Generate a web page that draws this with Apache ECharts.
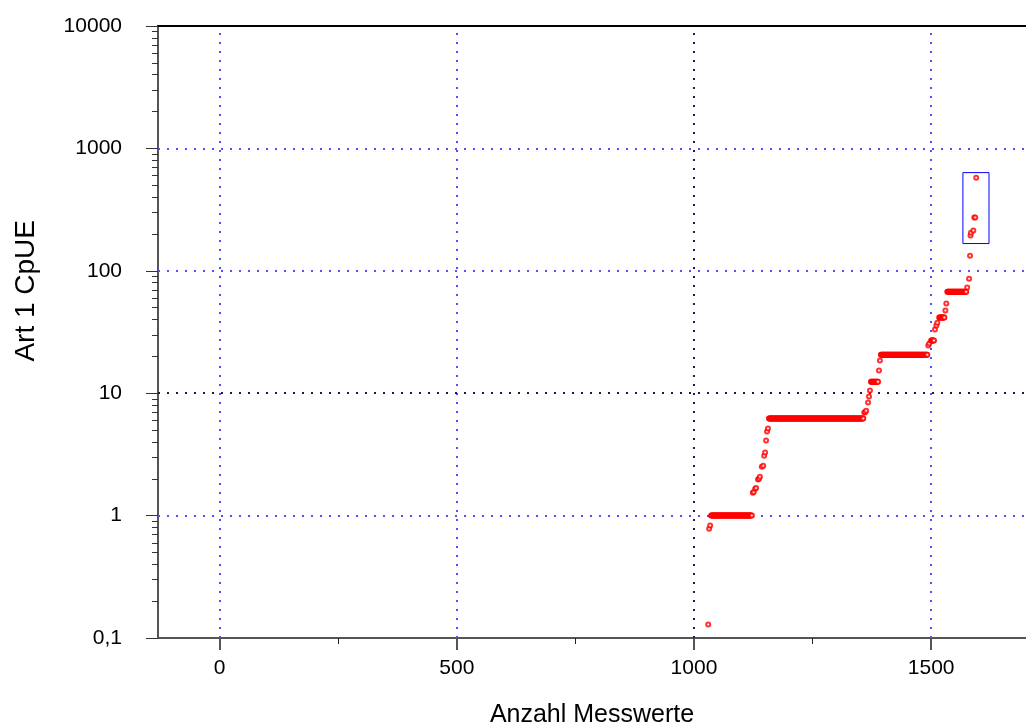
<!DOCTYPE html>
<html>
<head>
<meta charset="utf-8">
<script src="https://cdn.jsdelivr.net/npm/echarts@6/dist/echarts.min.js"></script>
<style>html,body{margin:0;padding:0;background:#fff}#c{width:1026px;height:727px}</style>
</head>
<body>
<div id="c"></div>
<script>
// ---- data ----
const xTitle = 'Anzahl Messwerte';
const yTitle = 'Art 1 CpUE';
const xMajorTicks = [0, 500, 1000, 1500];
const xMinorTicks = [250, 750, 1250];
const yMajorTicks = [0.1, 1, 10, 100, 1000, 10000];
const yMinorTicks = [0.2,0.3,0.4,0.5,0.6,0.7,0.8,0.9, 2,3,4,5,6,7,8,9, 20,30,40,50,60,70,80,90, 200,300,400,500,600,700,800,900, 2000,3000,4000,5000,6000,7000,8000,9000];
// isolated points [index, CpUE]
const singlePoints = [
  [1030,0.129],[1032,0.78],[1034,0.83],
  [1124,1.54],[1126,1.56],[1129,1.66],[1131,1.68],[1135,1.97],[1137,2.0],[1139,2.08],[1143,2.51],[1146,2.56],
  [1148,3.09],[1150,3.27],[1152,4.1],[1154,4.86],[1156,5.14],
  [1359,6.94],[1361,7.0],[1363,7.2],[1367,8.4],[1369,9.4],[1371,10.5],
  [1390,15.3],[1392,18.5],
  [1494,24.5],[1496,25.5],[1508,33.1],[1511,35.7],[1513,37.7],[1530,47.3],[1532,54],
  [1576,73],[1580,86],[1582,133],[1583,194],[1584,205],[1589,213],[1591,272],[1593,272],[1595,577]
];
// runs of consecutive measurements with equal CpUE [firstIndex, lastIndex, CpUE]
const runs = [
  [1036,1122,1.0],
  [1158,1357,6.2],
  [1373,1388,12.4],
  [1394,1492,20.6],
  [1500,1506,26.9],
  [1517,1528,41.5],
  [1534,1574,67.5]
];
// highlighted box [x0, x1, y0, y1]
const boxRange = [1567, 1622, 167, 634];

// ---- build ----
const points = singlePoints.slice();
runs.forEach(([a, b, v]) => { for (let i = a; i <= b; i++) points.push([i, v]); });
points.sort((p, q) => p[0] - q[0]);

const blue = '#5050ff';
const dark = '#1a1a50';
const gridLines = [];
xMajorTicks.forEach(v => gridLines.push({xAxis: v, lineStyle: {color: v === 1000 ? dark : blue}}));
yMajorTicks.filter(v => v > 0.1 && v < 10000).forEach(v => gridLines.push({yAxis: v, lineStyle: {color: v === 10 ? dark : blue}}));

const labelFont = {fontFamily: '"Liberation Sans",Arial,sans-serif', fontSize: 21, color: '#000'};

const chart = echarts.init(document.getElementById('c'), null, {renderer: 'canvas'});
chart.setOption({
  animation: false,
  backgroundColor: '#fff',
  grid: {left: 158, right: 0, top: 26, bottom: 89, containLabel: false, outerBoundsMode: 'none'},
  xAxis: [
    {
      type: 'value', min: -130, max: 1700, position: 'bottom',
      name: xTitle, nameLocation: 'middle', nameGap: 65,
      nameTextStyle: {fontFamily: '"Liberation Sans",Arial,sans-serif', fontSize: 25, color: '#000'},
      axisLine: {show: true, onZero: false, lineStyle: {color: '#555', width: 2}},
      axisTick: {show: true, length: 12, customValues: xMajorTicks, lineStyle: {color: '#555', width: 2}},
      axisLabel: {show: true, margin: 20, customValues: xMajorTicks, ...labelFont, formatter: v => String(v)},
      splitLine: {show: false}
    },
    {
      type: 'value', min: -130, max: 1700, position: 'bottom',
      axisLine: {show: false, onZero: false},
      axisTick: {show: true, length: 6, customValues: xMinorTicks, lineStyle: {color: '#222', width: 1}},
      axisLabel: {show: false},
      splitLine: {show: false}
    },
    {
      type: 'value', min: -130, max: 1700, position: 'top',
      axisLine: {show: true, onZero: false, lineStyle: {color: '#000', width: 2}},
      axisTick: {show: false}, axisLabel: {show: false}, splitLine: {show: false}
    }
  ],
  yAxis: [
    {
      type: 'log', logBase: 10, min: 0.1, max: 10000, position: 'left',
      axisLine: {show: true, onZero: false, lineStyle: {color: '#555', width: 2}},
      axisTick: {show: true, length: 12, lineStyle: {color: '#333', width: 1}},
      axisLabel: {show: true, margin: 36, ...labelFont,
        formatter: v => String(v).replace('.', ',')},
      splitLine: {show: false}
    },
    {
      type: 'value', min: -1, max: 4, position: 'left',
      axisLine: {show: false, onZero: false},
      axisTick: {show: true, length: 6, customValues: yMinorTicks.map(v => Math.log10(v)), lineStyle: {color: '#333', width: 1}},
      axisLabel: {show: false},
      splitLine: {show: false}
    }
  ],
  graphic: [{
    type: 'text', left: 12, top: 220, rotation: Math.PI / 2,
    style: {text: yTitle, fill: '#000', fontFamily: '"Liberation Sans",Arial,sans-serif', fontSize: 28}
  }],
  series: [
    {
      type: 'scatter', xAxisIndex: 0, yAxisIndex: 0, data: [], z: 1, silent: true,
      markLine: {silent: true, z: 1, symbol: 'none', label: {show: false},
        lineStyle: {type: [2, 7], width: 2}, data: gridLines}
    },
    {
      type: 'scatter', xAxisIndex: 0, yAxisIndex: 0, z: 3,
      symbol: 'emptyCircle', symbolSize: 4,
      itemStyle: {color: '#ff0000', borderColor: '#ff0000', borderWidth: 1},
      data: points,
      markArea: {silent: true, z: 4,
        itemStyle: {color: 'rgba(0,0,0,0)', borderColor: '#0000ff', borderWidth: 1},
        data: [[{xAxis: boxRange[0], yAxis: boxRange[3]}, {xAxis: boxRange[1], yAxis: boxRange[2]}]]}
    }
  ]
});
</script>
</body>
</html>
